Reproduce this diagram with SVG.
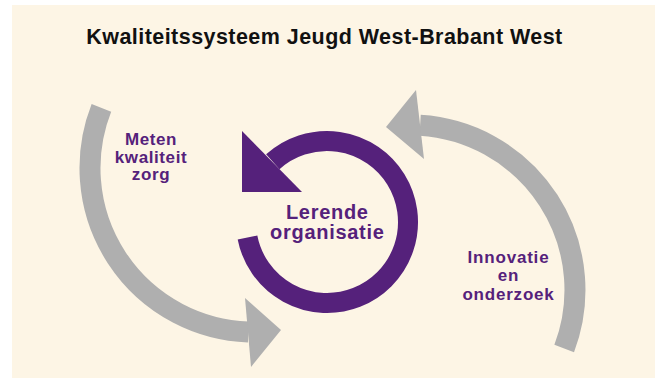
<svg xmlns="http://www.w3.org/2000/svg" width="657" height="378" viewBox="0 0 657 378">
  <style>
    .lbl { font-family: "Liberation Sans", Arial, sans-serif; font-weight: bold; fill: #55217B; text-anchor: middle; }
    .grey { fill: none; stroke: #AFAFAF; stroke-width: 21; stroke-linecap: butt; }
    .ring { fill: none; stroke: #55217B; stroke-width: 20; stroke-linecap: butt; }
  </style>
  <rect x="0" y="0" width="657" height="378" fill="#ffffff"/>
  <rect x="12" y="5" width="643" height="373" fill="#FDF5E5"/>
  <text x="324.5" y="44" font-family="Liberation Sans, Arial, sans-serif" font-weight="bold" font-size="21.5" fill="#111111" text-anchor="middle" letter-spacing="0.45">Kwaliteitssysteem Jeugd West-Brabant West</text>

  <g id="connectors">
    <g id="arrow-left">
      <path class="grey" d="M101.4,107.9 A164,164 0 0 0 248.3,331.9"/>
      <polygon points="245,298 281,330 251,367" fill="#AFAFAF"/>
    </g>
    <g id="arrow-right">
      <path class="grey" d="M564.2,348.6 A165,165 0 0 0 420.1,125.3"/>
      <polygon points="416,90 386,127 424,159" fill="#AFAFAF"/>
    </g>
  </g>

  <g id="node-lerende">
    <path class="ring" d="M247.5,237.5 A81,81 0 1 0 272.8,161.8"/>
    <polygon points="242,131 242,192 302,192" fill="#55217B"/>
    <text class="lbl" x="327.3" y="219" font-size="20" letter-spacing="0.7">Lerende</text>
    <text class="lbl" x="327.3" y="239" font-size="20" letter-spacing="0.7">organisatie</text>
  </g>

  <g id="node-meten">
    <text class="lbl" x="151" y="145" font-size="17" letter-spacing="0.6">Meten</text>
    <text class="lbl" x="151" y="162.5" font-size="17" letter-spacing="0.6">kwaliteit</text>
    <text class="lbl" x="151" y="180" font-size="17" letter-spacing="0.6">zorg</text>
  </g>

  <g id="node-innovatie">
    <text class="lbl" x="508.5" y="262.5" font-size="17" letter-spacing="0.8">Innovatie</text>
    <text class="lbl" x="508.5" y="281" font-size="17" letter-spacing="0.8">en</text>
    <text class="lbl" x="508.5" y="300" font-size="17" letter-spacing="0.8">onderzoek</text>
  </g>
</svg>
